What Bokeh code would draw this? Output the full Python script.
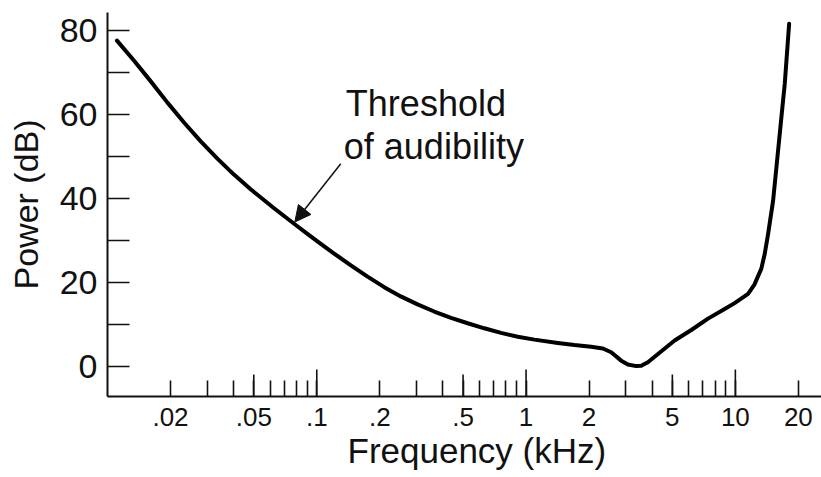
import math
from bokeh.plotting import figure
from bokeh.models import FixedTicker, Arrow, NormalHead, Label, ColumnDataSource, Title
from bokeh.embed import file_html
from bokeh.resources import INLINE

# Threshold of audibility curve
freq_khz = [0.0111, 0.0134, 0.0161, 0.0193, 0.0232, 0.0279, 0.0335, 0.0402, 0.0483,
            0.0625, 0.0779, 0.0902, 0.1045, 0.121, 0.1455, 0.1748, 0.210, 0.252,
            0.303, 0.364, 0.438, 0.526, 0.632, 0.759, 0.913, 1.096, 1.418, 1.702,
            2.046, 2.328, 2.551, 2.848, 3.066, 3.36, 3.55, 3.82, 4.27, 5.125, 6.16,
            7.40, 8.89, 9.92, 11.5, 12.33, 13.31, 13.81, 14.34, 15.15, 16.0, 16.6,
            17.22, 18.07]
threshold_db = [77.6, 72.8, 67.9, 62.9, 58.1, 53.6, 49.5, 45.7, 42.2,
                37.7, 34.0, 31.6, 29.2, 26.9, 24.1, 21.4, 18.9, 16.7,
                14.8, 13.1, 11.6, 10.3, 9.1, 8.0, 7.1, 6.4, 5.6, 5.1,
                4.7, 4.3, 3.4, 1.4, 0.5, 0.1, 0.2, 1.0, 3.0, 6.2, 8.7,
                11.4, 13.7, 15.1, 17.3, 19.5, 23.3, 26.8, 31.6, 39.5, 51.4, 59.4,
                67.3, 81.6]

y_major = [0, 20, 40, 60, 80]
y_minor = [10, 30, 50, 70]
x_labeled = [0.02, 0.05, 0.1, 0.2, 0.5, 1, 2, 5, 10, 20]
x_labels = [".02", ".05", ".1", ".2", ".5", "1", "2", "5", "10", "20"]
x_minor = [0.03, 0.04, 0.06, 0.07, 0.08, 0.09, 0.3, 0.4, 0.6, 0.7, 0.8, 0.9,
           3, 4, 6, 7, 8, 9]
x_mid_ticks = [0.05, 0.5, 5]
x_decade_ticks = [0.1, 1, 10]

INK = "#111111"
FONT = "Liberation Sans"

p = figure(width=821, height=477, x_axis_type="log",
           x_range=(0.01, 25.8), y_range=(-7.14, 84.3),
           output_backend="svg", toolbar_location=None,
           min_border_left=107, min_border_top=12, min_border_right=0,
           min_border_bottom=81)
p.grid.visible = False
p.outline_line_color = None
p.background_fill_color = "white"
p.border_fill_color = "white"

# x axis
xa = p.xaxis[0]
xa.ticker = FixedTicker(ticks=x_labeled, minor_ticks=x_minor)
xa.major_label_overrides = dict(zip(x_labeled, x_labels))
xa.axis_line_width = 2
xa.axis_line_color = INK
xa.major_tick_in = 16
xa.major_tick_out = 0
xa.minor_tick_in = 16
xa.minor_tick_out = 0
xa.major_tick_line_width = 1.6
xa.minor_tick_line_width = 1.6
xa.major_tick_line_color = INK
xa.minor_tick_line_color = INK
xa.major_label_standoff = 11
xa.major_label_text_font = FONT
xa.major_label_text_font_size = "26px"
xa.major_label_text_color = INK

p.add_layout(Title(text="Frequency (kHz)", align="left", offset=240,
                   text_font=FONT, text_font_size="35px", text_font_style="normal",
                   text_color=INK, standoff=0), "below")

# y axis
ya = p.yaxis[0]
ya.ticker = FixedTicker(ticks=y_major, minor_ticks=y_minor)
ya.axis_line_width = 2
ya.axis_line_color = INK
ya.major_tick_in = 22
ya.major_tick_out = 0
ya.minor_tick_in = 22
ya.minor_tick_out = 0
ya.major_tick_line_width = 1.6
ya.minor_tick_line_width = 1.6
ya.major_tick_line_color = INK
ya.minor_tick_line_color = INK
ya.major_label_standoff = 10
ya.major_label_text_font = FONT
ya.major_label_text_font_size = "34px"
ya.major_label_text_color = INK
ya.axis_label = "Power (dB)"
ya.axis_label_text_font = FONT
ya.axis_label_text_font_size = "34px"
ya.axis_label_text_font_style = "normal"
ya.axis_label_text_color = INK
ya.axis_label_standoff = 12

# longer x ticks (half of each dash is clipped below the frame)
y0 = p.y_range.start
mid_src = ColumnDataSource(dict(x=x_mid_ticks, y=[y0] * len(x_mid_ticks)))
dec_src = ColumnDataSource(dict(x=x_decade_ticks, y=[y0] * len(x_decade_ticks)))
p.scatter("x", "y", source=mid_src, marker="dash", angle=math.pi / 2, size=44,
          line_color=INK, line_width=1.6)
p.scatter("x", "y", source=dec_src, marker="dash", angle=math.pi / 2, size=54,
          line_color=INK, line_width=1.6)

# curve
p.line(freq_khz, threshold_db, line_color="#000000", line_width=4,
       line_join="round", line_cap="round")

# annotation
p.add_layout(Arrow(end=NormalHead(size=16, fill_color=INK, line_color=INK, line_width=1),
                   x_start=0.1302, y_start=48.3, x_end=0.0785, y_end=34.4,
                   line_color=INK, line_width=1.5))
p.add_layout(Label(x=0.1377, y=62.7, text="Threshold", text_font=FONT,
                   text_font_size="36px", text_color=INK, text_baseline="alphabetic"))
p.add_layout(Label(x=0.1346, y=52.4, text="of audibility", text_font=FONT,
                   text_font_size="36px", text_color=INK, text_baseline="alphabetic"))

open("out.html", "w").write(file_html(p, INLINE))
